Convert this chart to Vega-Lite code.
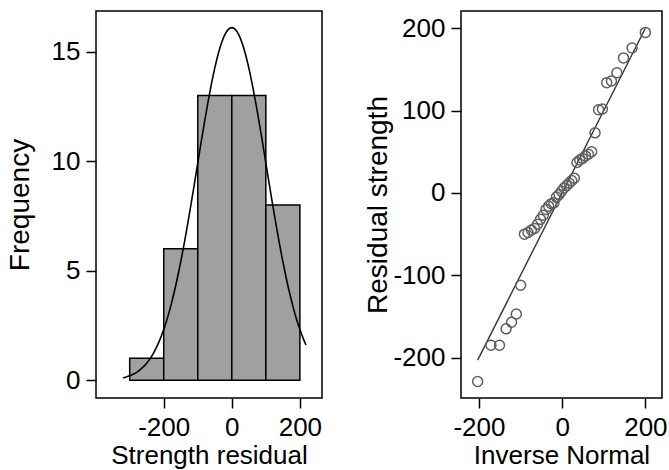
{
  "$schema": "https://vega.github.io/schema/vega-lite/v6.json",
  "padding": {"left": 5, "top": 10, "right": 5, "bottom": 0},
  "spacing": 41,
  "background": "white",
  "config": {
    "font": "Liberation Sans",
    "view": {"stroke": "black", "strokeWidth": 1.5},
    "axis": {
      "grid": false, "domain": false, "ticks": true, "tickColor": "black", "tickSize": 10, "tickWidth": 1.5,
      "labelColor": "black", "labelFontSize": 26, "labelFont": "Liberation Sans", "labelPadding": 6,
      "titleColor": "black", "titleFontSize": 26, "titleFont": "Liberation Sans", "titleFontWeight": "normal",
      "labelFlush": false, "labelOverlap": false, "labelExpr": "'' + datum.value"
    }
  },
  "datasets": {
    "hist": [
      {"lo": -300, "hi": -200, "count": 1},
      {"lo": -200, "hi": -100, "count": 6},
      {"lo": -100, "hi": 0, "count": 13},
      {"lo": 0, "hi": 100, "count": 13},
      {"lo": 100, "hi": 200, "count": 8}
    ],
    "curve": [
      {"x": -320, "y": 0.113}, {"x": -310, "y": 0.153}, {"x": -300, "y": 0.206}, {"x": -290, "y": 0.274},
      {"x": -280, "y": 0.361}, {"x": -270, "y": 0.471}, {"x": -260, "y": 0.610}, {"x": -250, "y": 0.780},
      {"x": -240, "y": 0.989}, {"x": -230, "y": 1.242}, {"x": -220, "y": 1.544}, {"x": -210, "y": 1.902},
      {"x": -200, "y": 2.320}, {"x": -190, "y": 2.801}, {"x": -180, "y": 3.352}, {"x": -170, "y": 3.971},
      {"x": -160, "y": 4.659}, {"x": -150, "y": 5.414}, {"x": -140, "y": 6.231}, {"x": -130, "y": 7.102},
      {"x": -120, "y": 8.015}, {"x": -110, "y": 8.960}, {"x": -100, "y": 9.919}, {"x": -90, "y": 10.88},
      {"x": -80, "y": 11.81}, {"x": -70, "y": 12.70}, {"x": -60, "y": 13.52}, {"x": -50, "y": 14.26},
      {"x": -40, "y": 14.90}, {"x": -30, "y": 15.41}, {"x": -20, "y": 15.79}, {"x": -10, "y": 16.02},
      {"x": 0, "y": 16.1}, {"x": 10, "y": 16.02}, {"x": 20, "y": 15.79}, {"x": 30, "y": 15.41},
      {"x": 40, "y": 14.90}, {"x": 50, "y": 14.26}, {"x": 60, "y": 13.52}, {"x": 70, "y": 12.70},
      {"x": 80, "y": 11.81}, {"x": 90, "y": 10.88}, {"x": 100, "y": 9.919}, {"x": 110, "y": 8.960},
      {"x": 120, "y": 8.015}, {"x": 130, "y": 7.102}, {"x": 140, "y": 6.231}, {"x": 150, "y": 5.414},
      {"x": 160, "y": 4.659}, {"x": 170, "y": 3.971}, {"x": 180, "y": 3.352}, {"x": 190, "y": 2.801},
      {"x": 200, "y": 2.320}, {"x": 210, "y": 1.902}, {"x": 218, "y": 1.61}
    ],
    "qq": [
      {"inv": -203.0, "res": -229}, {"inv": -171.1, "res": -185}, {"inv": -150.5, "res": -185},
      {"inv": -134.6, "res": -165}, {"inv": -121.5, "res": -157}, {"inv": -110.1, "res": -147},
      {"inv": -99.8, "res": -112}, {"inv": -90.6, "res": -50}, {"inv": -82.0, "res": -48},
      {"inv": -73.9, "res": -45}, {"inv": -66.3, "res": -43}, {"inv": -59.1, "res": -38},
      {"inv": -52.0, "res": -32}, {"inv": -45.3, "res": -27}, {"inv": -38.7, "res": -20},
      {"inv": -32.3, "res": -16}, {"inv": -26.0, "res": -13}, {"inv": -19.8, "res": -12},
      {"inv": -13.7, "res": -5}, {"inv": -7.6, "res": -2}, {"inv": -1.5, "res": 2},
      {"inv": 4.6, "res": 6}, {"inv": 10.7, "res": 9}, {"inv": 16.8, "res": 12},
      {"inv": 23.0, "res": 15}, {"inv": 29.3, "res": 18}, {"inv": 35.7, "res": 37},
      {"inv": 42.3, "res": 40}, {"inv": 49.0, "res": 42}, {"inv": 56.1, "res": 45},
      {"inv": 63.3, "res": 47}, {"inv": 70.9, "res": 50}, {"inv": 79.1, "res": 73},
      {"inv": 87.6, "res": 101}, {"inv": 96.8, "res": 102}, {"inv": 107.1, "res": 134},
      {"inv": 118.5, "res": 136}, {"inv": 131.6, "res": 146}, {"inv": 147.5, "res": 164},
      {"inv": 168.1, "res": 176}, {"inv": 200.0, "res": 195}
    ],
    "ref": [{"v": -203}, {"v": 200}]
  },
  "hconcat": [
    {
      "width": 226, "height": 387,
      "layer": [
        {
          "data": {"name": "hist"},
          "mark": {"type": "rect", "fill": "#a0a0a0", "stroke": "black", "strokeWidth": 1.5},
          "encoding": {
            "x": {"field": "lo", "type": "quantitative", "scale": {"domain": [-399, 265], "nice": false, "zero": false},
                  "axis": {"values": [-200, 0, 200], "title": "Strength residual", "titlePadding": 2}},
            "x2": {"field": "hi"},
            "y": {"field": "count", "type": "quantitative", "scale": {"domain": [-0.81, 16.86], "nice": false, "zero": false},
                  "axis": {"values": [0, 5, 10, 15], "title": "Frequency", "labelAngle": 0, "titlePadding": 17, "titleFontSize": 28}},
            "y2": {"datum": 0}
          }
        },
        {
          "data": {"name": "curve"},
          "mark": {"type": "line", "color": "black", "strokeWidth": 1.6, "interpolate": "monotone"},
          "encoding": {
            "x": {"field": "x", "type": "quantitative"},
            "y": {"field": "y", "type": "quantitative"}
          }
        }
      ]
    },
    {
      "width": 201, "height": 387,
      "layer": [
        {
          "data": {"name": "ref"},
          "mark": {"type": "line", "color": "#333333", "strokeWidth": 1.4},
          "encoding": {
            "x": {"field": "v", "type": "quantitative", "scale": {"domain": [-243, 240], "nice": false, "zero": false},
                  "axis": {"values": [-200, 0, 200], "title": "Inverse Normal", "titlePadding": 2}},
            "y": {"field": "v", "type": "quantitative", "scale": {"domain": [-249, 221], "nice": false, "zero": false},
                  "axis": {"values": [-200, -100, 0, 100, 200], "title": "Residual strength", "labelAngle": 0, "titlePadding": 0, "titleFontSize": 28}}
          }
        },
        {
          "data": {"name": "qq"},
          "mark": {"type": "point", "shape": "circle", "filled": false, "stroke": "#5f5f5f", "strokeWidth": 1.5, "size": 100, "opacity": 1},
          "encoding": {
            "x": {"field": "inv", "type": "quantitative"},
            "y": {"field": "res", "type": "quantitative"}
          }
        }
      ]
    }
  ]
}
